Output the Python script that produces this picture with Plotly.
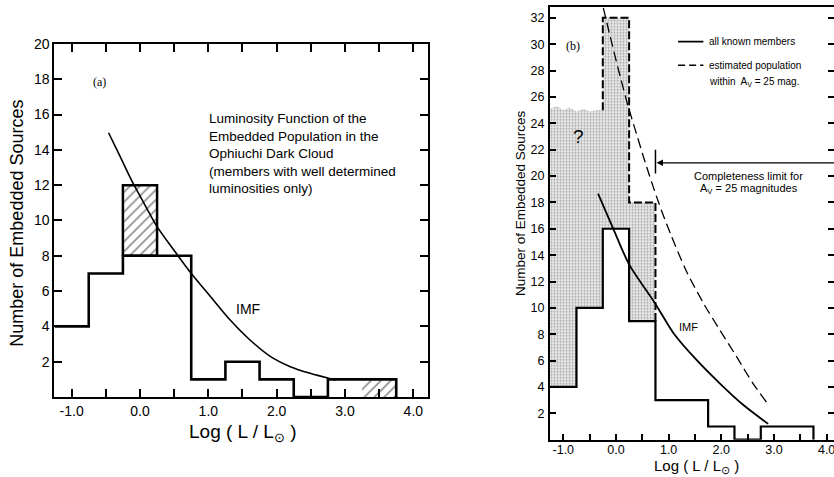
import plotly.graph_objects as go

# ---------------- data ----------------
bin_edges = [-1.25, -0.75, -0.25, 0.25, 0.75, 1.25, 1.75, 2.25, 2.75, 3.25, 3.75]

# panel (a)
a_counts = [4, 7, 8, 8, 1, 2, 1, 0, 1, 1]
a_hatch_x0 = [-0.25, 3.25]
a_hatch_x1 = [0.25, 3.75]
a_hatch_lo = [8, 0]
a_hatch_hi = [12, 1]
a_imf_x = [-0.46, -0.3, -0.1, 0.0, 0.25, 0.5, 0.73, 1.03, 1.32, 1.61, 1.9, 2.2, 2.49, 2.86]
a_imf_y = [14.97, 13.7, 12.1, 11.4, 9.65, 8.3, 7.1, 5.7, 4.36, 3.23, 2.32, 1.72, 1.34, 0.96]

# panel (b)
b_counts = [4, 10, 16, 9, 3, 3, 1, 0, 1, 1]
b_est_x = [-0.25, -0.25, 0.25, 0.25, 0.75, 0.75]
b_est_y = [25, 32, 32, 18, 18, 9]
b_stip_top_x = [-1.25, -1.12, -1.0, -0.88, -0.75, -0.62, -0.5, -0.38, -0.25]
b_stip_top_y = [25.1, 25.3, 25.0, 25.2, 24.9, 25.1, 24.9, 25.0, 25.0]
b_imf_x = [-0.34, -0.05, 0.25, 0.75, 1.09, 1.53, 1.97, 2.42, 2.89]
b_imf_y = [18.66, 16.0, 13.3, 10.3, 8.1, 6.05, 4.28, 2.63, 1.2]
b_est_imf_x = [-0.24, -0.08, 0.08, 0.23, 0.39, 0.55, 0.8, 1.03, 1.34, 1.66, 1.97, 2.29, 2.6, 2.86]
b_est_imf_y = [32.75, 30.1, 27.56, 25.3, 23.2, 21.1, 18.1, 15.67, 12.76, 10.36, 8.33, 6.3, 4.28, 2.84]
completeness_x = 0.75
completeness_y = 21.0

# ticks
x_tick_vals = [-1.0, 0.0, 1.0, 2.0, 3.0, 4.0]
x_tick_text = ["-1.0", "0.0", "1.0", "2.0", "3.0", "4.0"]
x_minor_vals = [-0.5, 0.5, 1.5, 2.5, 3.5]
a_y_tick_vals = list(range(2, 21, 2))
b_y_tick_vals = list(range(2, 33, 2))

FONT = "Liberation Sans"


def steps(edges, counts):
    xs, ys = [], []
    for i, c in enumerate(counts):
        xs += [edges[i], edges[i + 1]]
        ys += [c, c]
    xs.append(edges[-1])
    ys.append(0)
    return xs, ys


fig = go.Figure()

# ---------- panel (a) ----------
for i in range(len(a_hatch_x0)):
    x0, x1, lo, hi = a_hatch_x0[i], a_hatch_x1[i], a_hatch_lo[i], a_hatch_hi[i]
    fig.add_trace(go.Scatter(
        x=[x0, x1, x1, x0, x0], y=[lo, lo, hi, hi, lo], mode="lines",
        fill="toself", fillcolor="white",
        fillpattern=dict(shape="/", fgcolor="black", bgcolor="white", size=7, solidity=0.22),
        line=dict(color="black", width=2.5 if i == 0 else 0),
        xaxis="x", yaxis="y", hoverinfo="skip"))

ax_, ay_ = steps(bin_edges, a_counts)
fig.add_trace(go.Scatter(x=ax_, y=ay_, mode="lines", line=dict(color="black", width=2.6),
                         xaxis="x", yaxis="y"))
fig.add_trace(go.Scatter(x=a_imf_x, y=a_imf_y, mode="lines",
                         line=dict(color="black", width=1.6, shape="spline", smoothing=0.8),
                         xaxis="x", yaxis="y"))

# ---------- panel (b) ----------
bx_, by_ = steps(bin_edges, b_counts)
top_x = b_stip_top_x + [-0.25, 0.25, 0.25, 0.75, 0.75]
top_y = b_stip_top_y + [32, 32, 18, 18, 9]
bot_x, bot_y = [], []
for i in range(4):
    bot_x += [bin_edges[i], bin_edges[i + 1]]
    bot_y += [b_counts[i], b_counts[i]]
poly_x = top_x + bot_x[::-1] + [top_x[0]]
poly_y = top_y + bot_y[::-1] + [top_y[0]]
fig.add_trace(go.Scatter(
    x=poly_x, y=poly_y, mode="lines", fill="toself", fillcolor="white",
    fillpattern=dict(shape=".", fgcolor="#5a5a5a", bgcolor="#ededed", size=3, solidity=0.4),
    line=dict(width=0), xaxis="x2", yaxis="y2", hoverinfo="skip"))

fig.add_trace(go.Scatter(x=b_est_x, y=b_est_y, mode="lines",
                         line=dict(color="black", width=2, dash="8px,3px"), xaxis="x2", yaxis="y2"))
fig.add_trace(go.Scatter(x=bx_, y=by_, mode="lines", line=dict(color="black", width=2.2),
                         xaxis="x2", yaxis="y2"))
fig.add_trace(go.Scatter(x=b_imf_x, y=b_imf_y, mode="lines",
                         line=dict(color="black", width=1.8, shape="spline", smoothing=0.8),
                         xaxis="x2", yaxis="y2"))
fig.add_trace(go.Scatter(x=b_est_imf_x, y=b_est_imf_y, mode="lines",
                         line=dict(color="black", width=1.3, shape="spline", smoothing=0.8, dash="10px,5px"),
                         xaxis="x2", yaxis="y2"))

axis_common = dict(showline=True, linecolor="black", showgrid=False, zeroline=False,
                   ticks="inside", tickcolor="black", automargin=False)

fig.update_layout(
    width=834, height=477, margin=dict(l=0, r=0, t=0, b=0, autoexpand=False),
    paper_bgcolor="white", plot_bgcolor="white", showlegend=False,
    font=dict(family=FONT, color="black"),
    xaxis=dict(domain=[0.0651, 0.5128], range=[-1.254, 4.21], anchor="y",
               tickmode="array", tickvals=x_tick_vals, ticktext=x_tick_text, mirror="ticks",
               minor=dict(tickmode="array", tickvals=x_minor_vals, ticks="inside", ticklen=8,
                          tickwidth=1.5, tickcolor="black"),
               linewidth=2, ticklen=8, tickwidth=1.5, ticklabelstandoff=0,
               tickfont=dict(family=FONT, size=14), **axis_common),
    yaxis=dict(domain=[0.1677, 0.9078], range=[0, 20], anchor="x",
               tickmode="array", tickvals=a_y_tick_vals, mirror="ticks",
               linewidth=2, ticklen=8, tickwidth=1.5, ticklabelstandoff=0,
               tickfont=dict(family=FONT, size=14), **axis_common),
    xaxis2=dict(domain=[0.6595, 1.0], range=[-1.252, 4.14], anchor="y2",
                tickmode="array", tickvals=x_tick_vals, ticktext=x_tick_text, mirror=True,
                minor=dict(tickmode="array", tickvals=x_minor_vals, ticks="inside", ticklen=6,
                           tickwidth=1.5, tickcolor="black"),
                linewidth=2, ticklen=6, tickwidth=1.5, ticklabelstandoff=-3,
                ticklabeloverflow="allow",
                tickfont=dict(family=FONT, size=12.5), **axis_common),
    yaxis2=dict(domain=[0.0782, 0.9847], range=[0, 32.8], anchor="x2",
                tickmode="array", tickvals=b_y_tick_vals, mirror="ticks",
                linewidth=2, ticklen=6, tickwidth=1.5, ticklabelstandoff=1,
                tickfont=dict(family=FONT, size=12.5), **axis_common),
)

C = dict(xanchor="center", yanchor="middle", showarrow=False)
ann = []
ann.append(dict(text="Number of Embedded Sources", xref="paper", yref="paper", x=0.02, y=0.5325,
                textangle=-90, font=dict(size=18), **C))
ann.append(dict(text="Log ( L / L<sub>⊙</sub> )", xref="paper", yref="paper", x=0.2902, y=0.092,
                font=dict(size=19), **C))
ann.append(dict(text="Number of Embedded Sources", xref="paper", yref="paper", x=0.6235, y=0.5744,
                textangle=-90, font=dict(size=13.5), **C))
ann.append(dict(text="Log ( L / L<sub>⊙</sub> )", xref="paper", yref="paper", x=0.8353, y=0.022,
                font=dict(size=15), **C))
ann.append(dict(text="(a)", xref="x", yref="y", x=-0.586, y=17.86,
                font=dict(family="Liberation Serif", size=12), **C))
ann.append(dict(text="Luminosity Function of the<br>Embedded Population in the<br>Ophiuchi Dark Cloud<br>"
                     "(members with well determined<br>luminosities only)",
                xref="x", yref="y", x=0.975, y=16.3, xanchor="left", yanchor="top", align="left",
                showarrow=False, font=dict(size=13.5)))
ann.append(dict(text="IMF", xref="x", yref="y", x=1.586, y=4.97, font=dict(size=14), **C))
ann.append(dict(text="(b)", xref="x2", yref="y2", x=-0.81, y=29.9,
                font=dict(family="Liberation Serif", size=12), **C))
ann.append(dict(text="?", xref="x2", yref="y2", x=-0.715, y=23.0, font=dict(size=19), **C))
ann.append(dict(text="IMF", xref="x2", yref="y2", x=1.37, y=8.58, font=dict(size=11), **C))
ann.append(dict(text="all known members", xref="x2", yref="y2", x=1.72, y=30.2, xanchor="left",
                yanchor="middle", showarrow=False, font=dict(size=10)))
ann.append(dict(text="estimated population", xref="x2", yref="y2", x=1.72, y=28.4, xanchor="left",
                yanchor="middle", showarrow=False, font=dict(size=10)))
ann.append(dict(text="within  A<sub>V</sub> = 25 mag.", xref="x2", yref="y2", x=1.72, y=27.1,
                xanchor="left", yanchor="middle", showarrow=False, font=dict(size=10)))
ann.append(dict(text="Completeness limit for", xref="x2", yref="y2", x=2.52, y=20.0,
                font=dict(size=11), **C))
ann.append(dict(text="A<sub>V</sub> = 25 magnitudes", xref="x2", yref="y2", x=2.52, y=19.0,
                font=dict(size=11), **C))
ann.append(dict(text="", x=completeness_x + 0.02, y=completeness_y, xref="x2", yref="y2",
                ax=4.3, ay=completeness_y, axref="x2", ayref="y2", showarrow=True,
                arrowhead=2, arrowsize=1, arrowwidth=1.3, arrowcolor="black"))
fig.update_layout(annotations=ann)

shapes = [
    dict(type="line", xref="x2", yref="y2", x0=completeness_x, x1=completeness_x,
         y0=completeness_y - 0.8, y1=completeness_y + 1.0, line=dict(color="black", width=1.5)),
    dict(type="line", xref="x2", yref="y2", x0=1.18, x1=1.66, y0=30.2, y1=30.2,
         line=dict(color="black", width=1.8)),
    dict(type="line", xref="x2", yref="y2", x0=1.18, x1=1.66, y0=28.4, y1=28.4,
         line=dict(color="black", width=1.5, dash="7px,4px")),
]
fig.update_layout(shapes=shapes)

fig.write_html("out.html", config={"displayModeBar": False},
               post_script="document.body.style.margin='0';")
